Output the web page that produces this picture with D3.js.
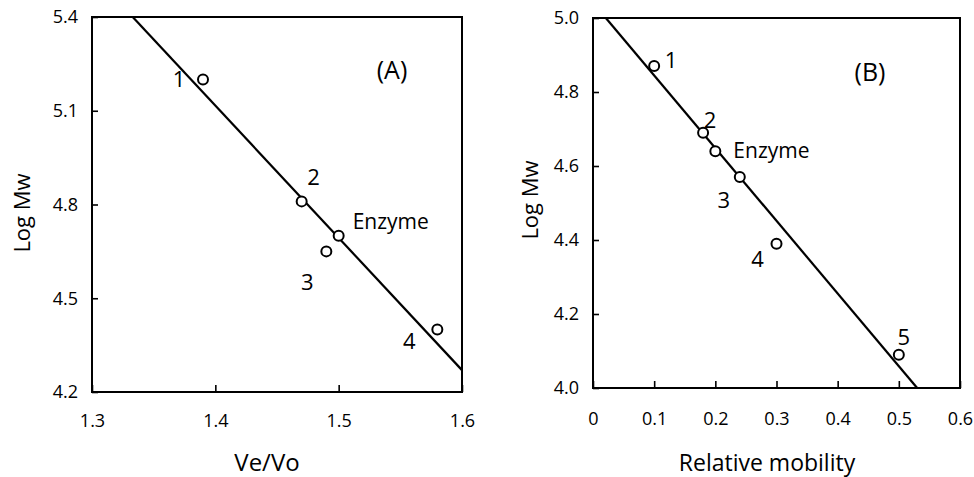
<!DOCTYPE html>
<html>
<head>
<meta charset="utf-8">
<script src="https://cdn.jsdelivr.net/npm/d3@7"></script>
<style>
  body { margin: 0; background: #fff; }
  svg { display: block; }
  svg text { font-family: "Open Sans", sans-serif; fill: #000; }
</style>
</head>
<body>
<svg id="chart" width="974" height="477"></svg>
<script>
// ---- data ----
// panel A : gel filtration
var namesA = ["1", "2", "3", "Enzyme", "4"];
var veVo = [1.39, 1.47, 1.49, 1.50, 1.58];
var logMwA = [5.20, 4.81, 4.65, 4.70, 4.40];
var fitA_x = [1.333, 1.6];
var fitA_y = [5.4, 4.27];
var ticksA_x = [1.3, 1.4, 1.5, 1.6];
var ticksA_y = [4.2, 4.5, 4.8, 5.1, 5.4];

// panel B : SDS-PAGE
var namesB = ["1", "2", "Enzyme", "3", "4", "5"];
var mobility = [0.10, 0.18, 0.20, 0.24, 0.30, 0.50];
var logMwB = [4.87, 4.69, 4.64, 4.57, 4.39, 4.09];
var fitB_x = [0.021, 0.530];
var fitB_y = [5.0, 4.0];
var ticksB_x = [0, 0.1, 0.2, 0.3, 0.4, 0.5, 0.6];
var ticksB_y = [4.0, 4.2, 4.4, 4.6, 4.8, 5.0];

var svg = d3.select("#chart");

// label placement (pixel offsets from the marker)
var labelPos = {
  A: {"1": [-24, 0, "middle"], "2": [12, -24, "middle"], "Enzyme": [14, -14, "start"],
      "3": [-19, 31, "middle"], "4": [-28, 12, "middle"]},
  B: {"1": [17, -6, "middle"], "2": [7, -12, "middle"], "Enzyme": [18, -1, "start"],
      "3": [-16, 23, "middle"], "4": [-19, 16, "middle"], "5": [5, -17, "middle"]}
};

function drawPanel(opt) {
  var x = d3.scaleLinear().domain(opt.xDomain).range([opt.left, opt.right]);
  var y = d3.scaleLinear().domain(opt.yDomain).range([opt.bottom, opt.top]);
  var g = svg.append("g");

  // axes, ticks pointing inward
  var yAxis = g.append("g")
      .attr("transform", "translate(" + opt.left + ",0)")
      .call(d3.axisLeft(y).tickValues(opt.yTicks).tickFormat(d3.format(".1f"))
            .tickSizeInner(-6).tickSizeOuter(0).tickPadding(14));
  var xAxis = g.append("g")
      .attr("transform", "translate(0," + opt.bottom + ")")
      .call(d3.axisBottom(x).tickValues(opt.xTicks).tickFormat(opt.xFormat)
            .tickSizeInner(-7).tickSizeOuter(0).tickPadding(opt.xPad));
  [xAxis, yAxis].forEach(function (a) {
    a.select(".domain").remove();
    a.selectAll(".tick line").attr("stroke", "#000").attr("stroke-width", 1.6);
    a.selectAll(".tick text").style("font-size", "18px");
  });

  // frame
  g.append("rect")
      .attr("x", opt.left).attr("y", opt.top)
      .attr("width", opt.right - opt.left).attr("height", opt.bottom - opt.top)
      .attr("fill", "none").attr("stroke", "#000").attr("stroke-width", 2);

  // fitted line
  var fit = opt.fitX.map(function (d, i) { return [d, opt.fitY[i]]; });
  g.append("path")
      .datum(fit)
      .attr("d", d3.line().x(function (d) { return x(d[0]); }).y(function (d) { return y(d[1]); }))
      .attr("fill", "none").attr("stroke", "#000").attr("stroke-width", 2.2);

  // markers
  var pts = opt.names.map(function (n, i) { return {name: n, x: opt.xs[i], y: opt.ys[i]}; });
  g.selectAll("circle").data(pts).enter().append("circle")
      .attr("cx", function (d) { return x(d.x); })
      .attr("cy", function (d) { return y(d.y); })
      .attr("r", 5)
      .attr("fill", "#fff").attr("stroke", "#000").attr("stroke-width", 2);

  g.selectAll("text.lbl").data(pts).enter().append("text")
      .attr("class", "lbl")
      .attr("x", function (d) { return x(d.x) + opt.labels[d.name][0]; })
      .attr("y", function (d) { return y(d.y) + opt.labels[d.name][1]; })
      .attr("dy", "0.35em")
      .attr("text-anchor", function (d) { return opt.labels[d.name][2]; })
      .style("font-size", function (d) { return d.name == "Enzyme" ? "21px" : "22px"; })
      .text(function (d) { return d.name; });

  // panel tag
  g.append("text")
      .attr("x", opt.tag[1]).attr("y", opt.tag[2]).attr("dy", "0.35em")
      .attr("text-anchor", "middle").style("font-size", "25px")
      .text(opt.tag[0]);

  // axis titles
  g.append("text")
      .attr("transform", "translate(" + opt.yTitleX + "," + opt.yTitleY + ") rotate(-90)")
      .attr("text-anchor", "middle").attr("dy", "0.35em").style("font-size", "22px")
      .text("Log Mw");
  g.append("text")
      .attr("x", opt.xTitleX).attr("y", opt.xTitleY)
      .attr("text-anchor", "middle").style("font-size", opt.xTitleSize)
      .text(opt.xTitle);
}

drawPanel({
  left: 92, right: 462, top: 17, bottom: 392, xPad: 22,
  xDomain: [1.3, 1.6], yDomain: [4.2, 5.4],
  xTicks: ticksA_x, yTicks: ticksA_y, xFormat: d3.format(".1f"),
  fitX: fitA_x, fitY: fitA_y,
  names: namesA, xs: veVo, ys: logMwA, labels: labelPos.A,
  tag: ["(A)", 392, 70],
  yTitleX: 22, yTitleY: 213,
  xTitleX: 267, xTitleY: 471, xTitle: "Ve/Vo", xTitleSize: "24px"
});

drawPanel({
  left: 593, right: 960, top: 18, bottom: 388, xPad: 24,
  xDomain: [0, 0.6], yDomain: [4.0, 5.0],
  xTicks: ticksB_x, yTicks: ticksB_y, xFormat: function (d) { return d == 0 ? "0" : d3.format(".1f")(d); },
  fitX: fitB_x, fitY: fitB_y,
  names: namesB, xs: mobility, ys: logMwB, labels: labelPos.B,
  tag: ["(B)", 870, 72],
  yTitleX: 530, yTitleY: 200,
  xTitleX: 767, xTitleY: 471, xTitle: "Relative mobility", xTitleSize: "23px"
});
</script>
</body>
</html>
